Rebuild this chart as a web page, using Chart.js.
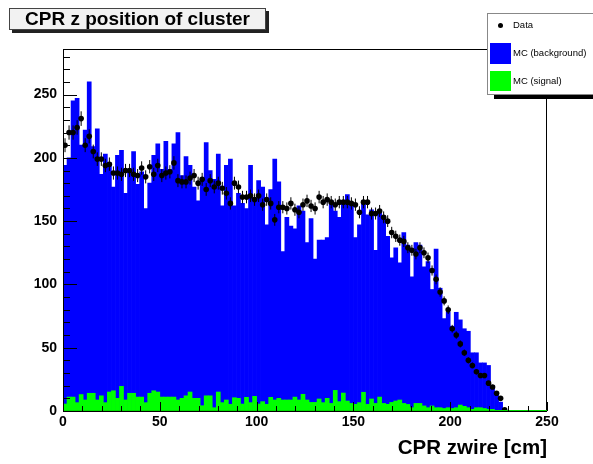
<!DOCTYPE html>
<html>
<head>
<meta charset="utf-8">
<script src="https://cdn.jsdelivr.net/npm/chart.js@4.4.0/dist/chart.umd.min.js"></script>
<style>
  html, body { margin: 0; padding: 0; background: #fff; }
  #wrap { width: 593px; height: 464px; position: relative; }
</style>
</head>
<body>
<div id="wrap"><canvas id="cpr"></canvas></div>
<script>
// 120 bins over 0-250 cm, only the first 110 are filled
const binWidth = 250 / 120;

// measured counts per bin
const dataCounts = [
  210, 220, 220, 224, 231, 210, 217, 205, 199, 199, 194, 195, 188, 188, 187, 190, 190, 187, 186, 192, 185, 193, 187, 194, 186, 188, 189, 196,
  182, 181, 181, 184, 186, 180, 183, 175, 182, 177, 180, 176, 172, 164, 180, 177, 169, 169, 170, 167, 170, 163, 167, 164, 151, 161, 161, 160,
  164, 159, 157, 163, 166, 162, 160, 169, 165, 167, 165, 163, 165, 165, 165, 164, 163, 157, 165, 165, 156, 156, 158, 153, 150, 141, 138, 135,
  134, 129, 127, 124, 129, 125, 121, 111, 104, 94, 87, 80, 65, 60, 53, 46, 40, 36, 31, 28, 28, 22, 19, 14, 10, 1
];

// MC background (drawn from zero, signal overlaid on top)
const mcBackground = [
  194, 200, 245, 247, 210, 222, 260, 209, 223, 187, 203, 196, 177, 202, 206, 172, 191, 205, 179, 189, 160, 180, 202, 211, 191, 213, 191, 211,
  220, 186, 201, 194, 177, 166, 182, 212, 190, 183, 203, 162, 194, 199, 162, 172, 164, 160, 194, 166, 182, 177, 147, 175, 199, 181, 126, 153,
  146, 144, 162, 158, 133, 152, 120, 135, 135, 137, 166, 158, 153, 165, 171, 162, 137, 147, 166, 155, 159, 127, 158, 154, 138, 121, 129, 117,
  141, 131, 106, 133, 131, 114, 118, 96, 128, 97, 73, 78, 67, 78, 72, 65, 63, 46, 46, 38, 38, 36, 20, 14, 7, 2
];

const mcSignal = [
  5.5, 11, 11, 6.6, 13, 8.7, 14, 14, 8.7, 12, 6.6, 15, 16, 10, 19.5, 8.7, 14, 14, 11, 11, 6.6, 14, 16, 15, 11, 11, 11, 11,
  8.7, 10, 12, 15, 10, 10, 4.2, 12, 12, 2.6, 15, 6.6, 8.7, 5.3, 10.5, 10, 5.5, 10.8, 6.6, 11.6, 5.5, 7.4, 5.3, 10.8, 8.7, 10, 8.7, 8.7,
  8.7, 11, 8.7, 13.2, 8.7, 6.8, 6.8, 9.5, 6.6, 10, 6, 16.3, 7.4, 14.2, 7.9, 6, 5.3, 6.6, 14.8, 5.3, 9.5, 6, 11, 6, 5.3, 6.8, 7.9, 8.7,
  6, 5.2, 2.6, 6, 6, 4, 2.6, 4, 2.6, 2.6, 2, 2.6, 2, 2.6, 4.7, 3.7, 2.6, 1.3, 2.6, 2.6, 2, 1.3, 1.3, 0.5, 0, 0
];

const xTicks = [0, 50, 100, 150, 200, 250];
const yTicks = [0, 50, 100, 150, 200, 250];

const binCenters = dataCounts.map((_, i) => (i + 0.5) * binWidth);
const errScale = 0.38;
const FONT = "'Liberation Sans', Arial, Helvetica, sans-serif";

const toPoints = arr => arr.map((v, i) => ({ x: binCenters[i], y: v }));

// vertical error bars on the data points
const errorBars = {
  id: 'errorBars',
  afterDatasetsDraw(chart) {
    const { ctx, scales: { x, y } } = chart;
    ctx.save();
    ctx.strokeStyle = '#000';
    ctx.lineWidth = 1;
    dataCounts.forEach((v, i) => {
      if (!v) return;
      const e = errScale * Math.sqrt(v);
      const px = x.getPixelForValue(binCenters[i]);
      ctx.beginPath();
      ctx.moveTo(px, y.getPixelForValue(v - e));
      ctx.lineTo(px, y.getPixelForValue(v + e));
      ctx.stroke();
    });
    ctx.restore();
  }
};

// frame, inward ticks, title box and legend box
const decorations = {
  id: 'decorations',
  beforeDraw(chart) {
    const ctx = chart.ctx;
    ctx.save();
    ctx.fillStyle = '#fff';
    ctx.fillRect(0, 0, chart.width, chart.height);
    ctx.restore();
  },
  afterDraw(chart) {
    const { ctx, chartArea: a, scales: { x, y } } = chart;
    ctx.save();

    ctx.strokeStyle = '#000';
    ctx.lineWidth = 1;
    ctx.strokeRect(a.left + 0.5, a.top + 0.5, a.right - a.left - 1, a.bottom - a.top);
    // green zero line of the signal histogram
    ctx.strokeStyle = '#00dd00';
    ctx.beginPath();
    ctx.moveTo(a.left, a.bottom - 0.5);
    ctx.lineTo(a.right, a.bottom - 0.5);
    ctx.stroke();

    ctx.strokeStyle = '#000';
    ctx.beginPath();
    for (let v = 0; v <= y.max; v += 10) {
      const py = Math.round(y.getPixelForValue(v)) + 0.5;
      const len = v % 50 === 0 ? 14 : 7;
      ctx.moveTo(a.left, py);
      ctx.lineTo(a.left + len, py);
    }
    for (let v = 0; v <= x.max; v += 10) {
      const px = Math.round(x.getPixelForValue(v)) + 0.5;
      const len = v % 50 === 0 ? 9 : 5;
      ctx.moveTo(px, a.bottom);
      ctx.lineTo(px, a.bottom - len);
    }
    ctx.stroke();

    // title box with shadow
    ctx.fillStyle = '#222';
    ctx.fillRect(12, 11, 257, 22);
    ctx.fillStyle = '#f2f2f2';
    ctx.fillRect(9, 8, 257, 22);
    ctx.strokeStyle = '#444';
    ctx.strokeRect(9.5, 8.5, 256, 21);
    ctx.fillStyle = '#000';
    ctx.font = 'bold 19px ' + FONT;
    ctx.textAlign = 'center';
    ctx.textBaseline = 'middle';
    ctx.fillText('CPR z position of cluster', 137.5, 20);

    // legend box with shadow
    ctx.fillStyle = '#000';
    ctx.fillRect(494, 95, 100, 4);
    ctx.fillStyle = '#fff';
    ctx.fillRect(487, 13, 107, 82);
    ctx.strokeStyle = '#888';
    ctx.strokeRect(487.5, 13.5, 110, 81);

    ctx.fillStyle = '#000';
    ctx.beginPath();
    ctx.arc(500.5, 25.5, 2.5, 0, Math.PI * 2);
    ctx.fill();
    ctx.fillStyle = '#0000ff';
    ctx.fillRect(490, 43, 21, 21);
    ctx.fillStyle = '#00ff00';
    ctx.fillRect(490, 71, 21, 20);

    ctx.fillStyle = '#000';
    ctx.font = '9.5px ' + FONT;
    ctx.textAlign = 'left';
    ctx.fillText('Data', 513, 25.5);
    ctx.fillText('MC (background)', 513, 53.5);
    ctx.fillText('MC (signal)', 513, 81.5);
    ctx.restore();
  }
};

new Chart(document.getElementById('cpr'), {
  type: 'bar',
  data: {
    datasets: [
      {
        type: 'scatter',
        label: 'Data',
        data: toPoints(dataCounts).filter(p => p.y > 0),
        pointRadius: 2.8,
        pointBackgroundColor: '#000',
        pointBorderWidth: 0,
        order: 0
      },
      {
        label: 'MC (signal)',
        data: toPoints(mcSignal),
        backgroundColor: '#00ff00',
        grouped: false,
        barPercentage: 1,
        categoryPercentage: 1,
        order: 1
      },
      {
        label: 'MC (background)',
        data: toPoints(mcBackground),
        backgroundColor: '#0000ff',
        grouped: false,
        barPercentage: 1,
        categoryPercentage: 1,
        order: 2
      }
    ]
  },
  options: {
    responsive: true,
    maintainAspectRatio: false,
    animation: false,
    layout: { padding: { top: 49, right: 46, left: 0, bottom: 0 } },
    plugins: {
      legend: { display: false },
      title: { display: false },
      tooltip: { enabled: false }
    },
    scales: {
      x: {
        type: 'linear',
        min: 0,
        max: 250,
        offset: false,
        grid: { display: false, drawTicks: false },
        border: { display: false },
        afterFit: s => { s.height = 53; },
        afterBuildTicks: s => { s.ticks = xTicks.map(v => ({ value: v })); },
        ticks: {
          color: '#000',
          padding: 3,
          maxRotation: 0,
          autoSkip: false,
          font: { family: FONT, size: 14, weight: 'bold' }
        },
        title: {
          display: true,
          text: 'CPR zwire [cm]',
          align: 'end',
          color: '#000',
          padding: { top: 0, bottom: 3 },
          font: { family: FONT, size: 20.5, weight: 'bold' }
        }
      },
      y: {
        min: 0,
        max: 286,
        grid: { display: false, drawTicks: false },
        border: { display: false },
        afterFit: s => { s.width = 63; },
        afterBuildTicks: s => { s.ticks = yTicks.map(v => ({ value: v })); },
        ticks: {
          color: '#000',
          padding: 6,
          font: { family: FONT, size: 14, weight: 'bold' }
        }
      }
    }
  },
  plugins: [errorBars, decorations]
});
</script>
</body>
</html>
